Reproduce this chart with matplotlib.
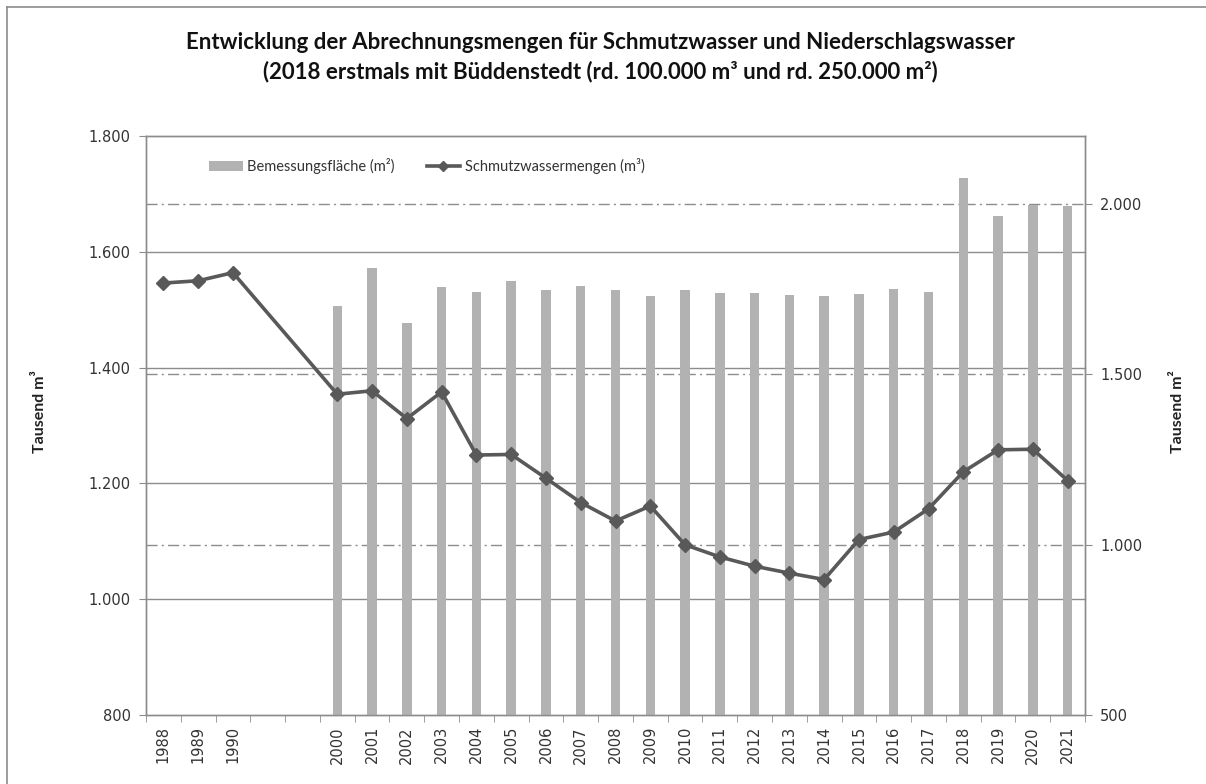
import matplotlib
matplotlib.use("Agg")
import matplotlib.pyplot as plt
import matplotlib.transforms as mtransforms
from matplotlib.lines import Line2D
from matplotlib.patches import Patch
import numpy as np

# ---- data ----
categories = ["1988", "1989", "1990", "", "",
              "2000", "2001", "2002", "2003", "2004", "2005", "2006", "2007", "2008", "2009",
              "2010", "2011", "2012", "2013", "2014", "2015", "2016", "2017", "2018", "2019",
              "2020", "2021"]
# Bemessungsfläche (Tausend m²), right axis
flaeche = [None, None, None, None, None,
           1702, 1812, 1650, 1757, 1742, 1773, 1749, 1760, 1747, 1730,
           1749, 1738, 1740, 1733, 1730, 1736, 1752, 1742, 2077, 1964,
           1997, 1994]
# Schmutzwassermengen (Tausend m³), left axis
schmutz = [1546, 1550, 1564, None, None,
           1354, 1360, 1312, 1358, 1249, 1250, 1209, 1167, 1135, 1161,
           1094, 1073, 1057, 1045, 1034, 1103, 1116, 1156, 1220, 1258,
           1259, 1205]

left_ticks = [800, 1000, 1200, 1400, 1600, 1800]
right_ticks = [500, 1000, 1500, 2000]

title = ("Entwicklung der Abrechnungsmengen für Schmutzwasser und Niederschlagswasser\n"
         "(2018 erstmals mit Büddenstedt (rd. 100.000 m³ und rd. 250.000 m²)")
bar_label = "Bemessungsfläche (m²)"
line_label = "Schmutzwassermengen (m³)"
left_title = "Tausend m³"
right_title = "Tausend m²"

# ---- styling ----
BAR_C = "#b2b2b2"
LINE_C = "#595959"
GRID_C = "#8c8c8c"
TXT_C = "#333333"
title_font = ["Lato", "DejaVu Sans"]
tick_font = ["DejaVu Sans"]
TICK_FS = 10.5

def fmt(v):
    return f"{v:,.0f}".replace(",", ".")

fig = plt.figure(figsize=(12.06, 7.84), dpi=100)
L, R, B, T = 146/1206, 1085/1206, 1-715/784, 1-136/784
ax_r = fig.add_axes([L, B, R-L, T-B])          # bars (right scale), drawn below
ax_l = ax_r.twinx()                               # line (left scale), drawn above
ax_l.yaxis.tick_left()
ax_l.yaxis.set_label_position("left")
ax_r.yaxis.tick_right()
ax_r.yaxis.set_label_position("right")
ax_l.set_zorder(ax_r.get_zorder() + 1)
ax_l.patch.set_visible(False)

x = np.arange(len(categories))
ax_r.set_xlim(-0.5, len(categories) - 0.5)
ax_r.set_ylim(500, 2200)
ax_l.set_ylim(800, 1800)

# bars
bx = [i for i, v in enumerate(flaeche) if v is not None]
bv = [v for v in flaeche if v is not None]
ax_r.bar(bx, [v - 500 for v in bv], bottom=500, width=0.27, color=BAR_C, zorder=3)

# gridlines (both drawn in lower axes so bars overlay them)
trans_l = mtransforms.blended_transform_factory(ax_r.transAxes, ax_l.transData)
for v in left_ticks[1:]:
    ax_r.plot([0, 1], [v, v], transform=trans_l, color=GRID_C, lw=1.0, zorder=1, clip_on=False)
for v in right_ticks[1:]:
    ax_r.plot([0, 1.0], [v, v], color=GRID_C, lw=1.0, ls=(0, (8, 3, 1.5, 3)), zorder=1,
              transform=mtransforms.blended_transform_factory(ax_r.transAxes, ax_r.transData))

# line
lx = [i for i, v in enumerate(schmutz) if v is not None]
lv = [v for v in schmutz if v is not None]
ax_l.plot(lx, lv, color=LINE_C, lw=2.6, marker="D", markersize=7, zorder=4)

# axes styling
for a in (ax_l, ax_r):
    for s in a.spines.values():
        s.set_color(GRID_C)
        s.set_linewidth(1.0)
    a.spines["top"].set_visible(False)
ax_r.spines["top"].set_visible(True)

ax_l.set_yticks(left_ticks)
ax_l.set_yticklabels([fmt(v) for v in left_ticks], fontfamily=tick_font, fontsize=TICK_FS, color=TXT_C)
ax_r.set_yticks(right_ticks)
ax_r.set_yticklabels([fmt(v) for v in right_ticks], fontfamily=tick_font, fontsize=TICK_FS, color=TXT_C)
ax_l.tick_params(axis="y", direction="out", length=5, color=GRID_C, pad=6)
ax_r.tick_params(axis="y", direction="out", length=5, color=GRID_C, pad=6)

ax_r.set_xticks(x)
ax_r.set_xticklabels(categories, rotation=90, fontfamily=tick_font, fontsize=TICK_FS, color=TXT_C)
ax_r.set_xticks(np.arange(-0.5, len(categories)), minor=True)
ax_r.tick_params(axis="x", which="major", length=0, pad=8)
ax_r.tick_params(axis="x", which="minor", length=5, direction="out", color=GRID_C)
ax_l.tick_params(axis="x", which="both", length=0, labelbottom=False)

# axis titles
fig.text(40/1206, 1-412/784, left_title, rotation=90, ha="center", va="center",
         fontfamily=title_font, fontweight="bold", fontsize=11.5, color="#222222")
fig.text(1178/1206, 1-412/784, right_title, rotation=90, ha="center", va="center",
         fontfamily=title_font, fontweight="bold", fontsize=11.5, color="#222222")

# title
fig.text(600/1206, 1-57/784, title, ha="center", va="center", linespacing=1.45,
         fontfamily=title_font, fontweight="bold", fontsize=16, color="#111111")

# legend
handles = [Patch(facecolor=BAR_C, edgecolor="none"),
           Line2D([], [], color=LINE_C, lw=2.6, marker="D", markersize=5.5)]
leg = ax_l.legend(handles, [bar_label, line_label], loc="center left",
                  ncol=2, frameon=False, columnspacing=2.2, handlelength=2.3,
                  handletextpad=0.3, prop={"family": title_font, "size": 10.5})
leg.set_bbox_to_anchor((196/1206, 1-166/784), transform=fig.transFigure)
for t in leg.get_texts():
    t.set_color("#333333")

# chart-area border (top and left visible)
fig.add_artist(Line2D([7/1206, 1.0], [1-7/784, 1-7/784], transform=fig.transFigure, color="#8c8c8c", lw=1.2))
fig.add_artist(Line2D([7/1206, 7/1206], [0, 1-7/784], transform=fig.transFigure, color="#8c8c8c", lw=1.2))

fig.savefig("out.png", dpi=100)
